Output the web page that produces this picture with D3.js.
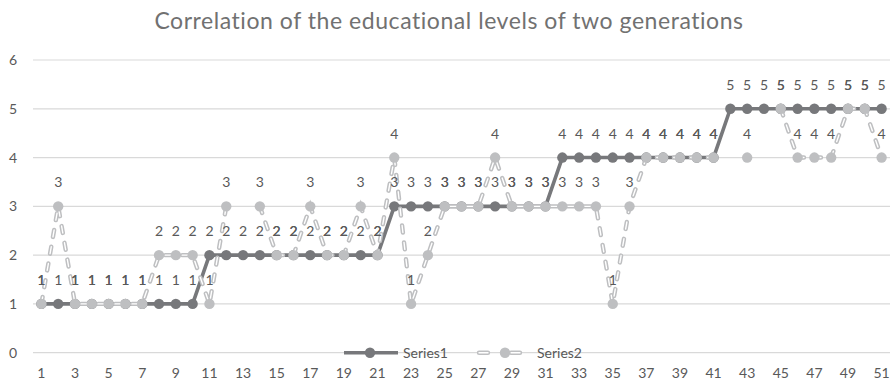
<!DOCTYPE html>
<html>
<head>
<meta charset="utf-8">
<script src="https://cdn.jsdelivr.net/npm/d3@7"></script>
<style>
  html, body { margin: 0; padding: 0; background: #fff; }
  svg { display: block; font-family: Lato, "Open Sans", sans-serif; }
</style>
</head>
<body>
<svg id="chart" width="894" height="388"></svg>
<script>
// Educational level per family: index 1..51
const categories = d3.range(1, 52);
const series1 = [
  1, 1, 1, 1, 1, 1, 1, 1, 1, 1,
  2, 2, 2, 2, 2, 2, 2, 2, 2, 2, 2,
  3, 3, 3, 3, 3, 3, 3, 3, 3, 3,
  4, 4, 4, 4, 4, 4, 4, 4, 4, 4,
  5, 5, 5, 5, 5, 5, 5, 5, 5, 5
];
const series2 = [
  1, 3, 1, 1, 1, 1, 1, 2, 2, 2,
  1, 3, null, 3, 2, 2, 3, 2, 2, 3, 2,
  4, 1, 2, 3, 3, 3, 4, 3, 3, 3,
  3, 3, 3, 1, 3, 4, 4, 4, 4, 4,
  null, 4, null, 5, 4, 4, 4, 5, 5, 4
];
const yTicks = [0, 1, 2, 3, 4, 5, 6];
const xTickLabels = categories.filter(c => c % 2 === 1);
const seriesNames = ["Series1", "Series2"];
const titleText = "Correlation of the educational levels of two generations";

const colDark = "#77787b";
const colLight = "#bebfc1";
const colText = "#595959";
const colGrid = "#d9d9d9";

const svg = d3.select("#chart");

const x = d3.scaleBand().domain(categories).range([33, 890]).padding(0);
const cx = d => x(d) + x.bandwidth() / 2;
const y = d3.scaleLinear().domain([0, 6]).range([352.7, 60]);

// title
svg.append("text")
  .attr("x", 449).attr("y", 29)
  .attr("text-anchor", "middle")
  .attr("fill", "#717171")
  .style("font-size", "23px")
  .style("letter-spacing", "0.55px")
  .text(titleText);

// horizontal gridlines
svg.append("g").selectAll("line").data(yTicks).join("line")
  .attr("x1", 33).attr("x2", 890)
  .attr("y1", d => y(d)).attr("y2", d => y(d))
  .attr("stroke", colGrid).attr("stroke-width", 1.2);

// y axis labels
const yAxis = d3.axisLeft(y).tickValues(yTicks).tickFormat(d3.format("d")).tickSize(0).tickPadding(0);
svg.append("g").attr("transform", "translate(17,0)").call(yAxis)
  .call(g => g.select(".domain").remove())
  .call(g => g.selectAll("text").attr("fill", colText).style("font-size", "14px").style("font-family", "Lato, sans-serif"));

// x axis labels (odd categories only)
const xAxis = d3.axisBottom(x).tickValues(xTickLabels).tickSize(0).tickPadding(0);
svg.append("g").attr("transform", "translate(0,368)").call(xAxis)
  .call(g => g.select(".domain").remove())
  .call(g => g.selectAll("text").attr("fill", colText).style("font-size", "14px").style("font-family", "Lato, sans-serif"));

const rows1 = categories.map((c, i) => ({ c, v: series1[i] }));
const rows2 = categories.map((c, i) => ({ c, v: series2[i] }));

const line = d3.line()
  .defined(d => d.v !== null)
  .x(d => cx(d.c))
  .y(d => y(d.v));

// Series1: solid dark line with markers
svg.append("path").datum(rows1)
  .attr("d", line)
  .attr("fill", "none").attr("stroke", colDark)
  .attr("stroke-width", 3.6).attr("stroke-linejoin", "round");
svg.append("g").selectAll("circle").data(rows1).join("circle")
  .attr("cx", d => cx(d.c)).attr("cy", d => y(d.v)).attr("r", 5.2)
  .attr("fill", colDark);

// Series2: hollow dashed light line with markers
function dashedHollow(sel, stroke) {
  sel.attr("fill", "none")
    .attr("stroke", stroke)
    .attr("stroke-width", 4.4)
    .attr("stroke-linecap", "round")
    .attr("stroke-dasharray", "7,10");
}
function dashedCore(sel) {
  sel.attr("fill", "none")
    .attr("stroke", "#ffffff")
    .attr("stroke-width", 1.4)
    .attr("stroke-linecap", "round")
    .attr("stroke-dasharray", "7,10");
}
svg.append("path").datum(rows2).attr("d", line).call(dashedHollow, colLight);
svg.append("path").datum(rows2).attr("d", line).call(dashedCore);
svg.append("g").selectAll("circle").data(rows2.filter(d => d.v !== null)).join("circle")
  .attr("cx", d => cx(d.c)).attr("cy", d => y(d.v)).attr("r", 5.2)
  .attr("fill", colLight);

// data labels above each point
const labels = svg.append("g")
  .attr("text-anchor", "middle")
  .attr("fill", colText)
  .style("font-size", "14px");
labels.selectAll("text.s1").data(rows1).join("text").attr("class", "s1")
  .attr("x", d => cx(d.c)).attr("y", d => y(d.v) - 19)
  .text(d => d.v);
labels.selectAll("text.s2").data(rows2.filter(d => d.v !== null)).join("text").attr("class", "s2")
  .attr("x", d => cx(d.c)).attr("y", d => y(d.v) - 19)
  .text(d => d.v);

// legend
const lg = svg.append("g").style("font-size", "14px").attr("fill", colText);
const ly = 352.7;
lg.append("line").attr("x1", 344).attr("x2", 398).attr("y1", ly).attr("y2", ly)
  .attr("stroke", colDark).attr("stroke-width", 3.6);
lg.append("circle").attr("cx", 370).attr("cy", ly).attr("r", 5.2).attr("fill", colDark);
lg.append("text").attr("x", 403).attr("y", ly + 5).text(seriesNames[0]);

const l2 = [[479, ly], [530, ly]];
lg.append("path").attr("d", d3.line()(l2)).call(dashedHollow, colLight).attr("stroke-dasharray", "9,23");
lg.append("path").attr("d", d3.line()(l2)).call(dashedCore).attr("stroke-dasharray", "9,23");
lg.append("circle").attr("cx", 505).attr("cy", ly).attr("r", 5.2).attr("fill", colLight);
lg.append("text").attr("x", 537).attr("y", ly + 5).text(seriesNames[1]);
</script>
</body>
</html>
